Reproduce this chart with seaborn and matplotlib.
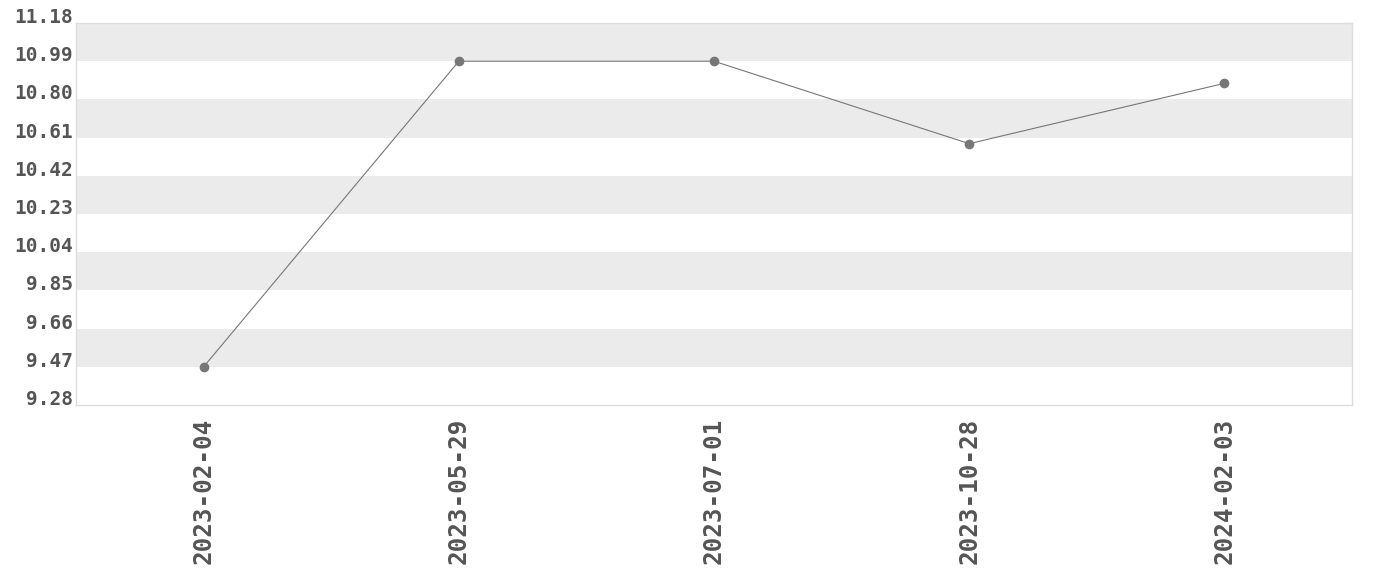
import seaborn as sns
import matplotlib.pyplot as plt
import numpy as np
import pandas as pd

dates = ["2023-02-04", "2023-05-29", "2023-07-01", "2023-10-28", "2024-02-03"]
values = [9.47, 10.99, 10.99, 10.58, 10.88]
y_ticks = [9.28, 9.47, 9.66, 9.85, 10.04, 10.23, 10.42, 10.61, 10.80, 10.99, 11.18]

sns.set_theme(style='white')
plt.rcParams['font.family'] = ['DejaVu Sans Mono', 'DejaVu Sans']

df = pd.DataFrame({"date": dates, "value": values})

fig = plt.figure(figsize=(13.8, 5.8), dpi=100)
ax = fig.add_axes([0.0551, 0.3017, 0.9246, 0.6586])

# alternating bands between ticks
for i in range(1, len(y_ticks) - 1, 2):
    ax.axhspan(y_ticks[i], y_ticks[i + 1], color='#ebebeb', lw=0, zorder=0)

sns.lineplot(data=df, x="date", y="value", ax=ax, color='#777777', linewidth=0.8,
             marker='o', markersize=7, markeredgewidth=0, sort=False, zorder=3)

ax.set_xlim(-0.5, len(dates) - 0.5)
ax.set_ylim(y_ticks[0], y_ticks[-1])
ax.set_yticks(y_ticks)
ax.set_yticklabels([f"{v:.2f}" for v in y_ticks], fontsize=14, fontweight='bold',
                   color='#555555', va='baseline')
ax.set_xticks(range(len(dates)))
ax.set_xticklabels(dates, rotation=90, fontsize=17.5, fontweight='bold', color='#555555')
ax.tick_params(axis='both', length=0)
ax.tick_params(axis='y', pad=2)
ax.tick_params(axis='x', pad=9)
ax.set_xlabel("")
ax.set_ylabel("")
ax.grid(False)
for s in ax.spines.values():
    s.set_color('#dddddd')
    s.set_linewidth(1)

plt.savefig("out.png")
